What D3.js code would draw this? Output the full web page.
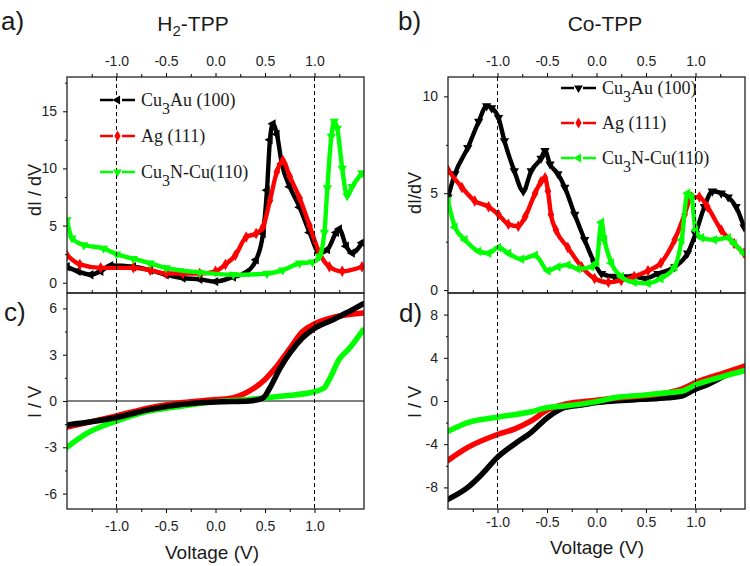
<!DOCTYPE html>
<html><head><meta charset="utf-8">
<script src="https://cdn.jsdelivr.net/npm/d3@7"></script>
<style>body{margin:0;background:#fff}</style>
</head><body><svg id="c" width="750" height="566"></svg>
<script>
// ---------- data ----------
const voltTicks = [-1.0, -0.5, 0.0, 0.5, 1.0];
const voltMinor = [-1.25, -0.75, -0.25, 0.25, 0.75, 1.25];
const dIdV_H2_ticks = [0, 5, 10, 15];
const dIdV_H2_minor = [2.5, 7.5, 12.5, 17.5];
const IV_H2_ticks = [-6, -3, 0, 3, 6];
const IV_H2_minor = [-4.5, -1.5, 1.5, 4.5];
const dIdV_Co_ticks = [0, 5, 10];
const dIdV_Co_minor = [2.5, 7.5];
const IV_Co_ticks = [-8, -4, 0, 4, 8];
const IV_Co_minor = [-6, -2, 2, 6];
const seriesNames = ["Cu_3Au (100)", "Ag (111)", "Cu_3N-Cu(110)"];
const seriesColors = ["#000000", "#ff0000", "#00ff00"];

// H2-TPP dI/dV  [V, dI/dV]
const a_Cu3Au = [[-1.5,1.4],[-1.39,1.0],[-1.26,0.7],[-1.16,1.0],[-1.06,1.5],[-0.83,1.4],[-0.66,1.1],[-0.5,0.7],[-0.33,0.4],[-0.16,0.3],[0.0,0.1],[0.18,0.5],[0.31,0.9],[0.41,2.0],[0.48,4.3],[0.52,8.1],[0.55,12.5],[0.58,13.9],[0.62,13.0],[0.67,10.4],[0.75,8.4],[0.85,6.6],[0.95,4.4],[1.05,2.6],[1.13,2.9],[1.22,4.4],[1.25,4.7],[1.32,3.2],[1.38,2.6],[1.48,3.5]];
const a_Ag = [[-1.5,2.4],[-1.37,1.6],[-1.16,1.3],[-0.83,1.3],[-0.66,1.1],[-0.5,0.8],[-0.33,0.8],[-0.16,0.8],[0.0,1.0],[0.1,1.6],[0.2,2.4],[0.31,4.0],[0.41,4.3],[0.48,4.9],[0.55,7.2],[0.62,9.7],[0.68,10.7],[0.75,9.3],[0.85,7.4],[0.95,5.0],[1.05,2.6],[1.15,1.4],[1.28,1.0],[1.48,1.4]];
const a_Cu3N = [[-1.5,5.5],[-1.45,3.9],[-1.33,3.3],[-1.13,3.0],[-1.0,2.5],[-0.83,2.1],[-0.66,1.7],[-0.5,1.3],[-0.16,0.9],[0.18,0.7],[0.52,0.8],[0.68,1.1],[0.85,1.7],[0.98,1.8],[1.05,2.3],[1.1,4.4],[1.13,8.3],[1.17,12.8],[1.2,14.1],[1.23,13.5],[1.28,10.0],[1.33,7.6],[1.38,8.4],[1.48,9.6]];
// H2-TPP I/V
const c_Cu3Au = [[-1.5,-1.55],[-1.0,-1.07],[-0.66,-0.54],[-0.33,-0.21],[0.0,-0.06],[0.34,0.0],[0.48,0.2],[0.55,0.86],[0.65,2.1],[0.75,3.1],[0.88,4.1],[1.0,4.7],[1.18,5.25],[1.32,5.7],[1.49,6.3]];
const c_Ag = [[-1.5,-1.7],[-1.0,-0.96],[-0.66,-0.43],[-0.33,-0.1],[0.0,0.09],[0.17,0.2],[0.34,0.64],[0.5,1.4],[0.6,2.1],[0.75,3.4],[0.88,4.5],[1.0,5.0],[1.18,5.4],[1.49,5.7]];
const c_Cu3N = [[-1.5,-3.0],[-1.3,-2.1],[-1.0,-1.3],[-0.66,-0.64],[-0.33,-0.32],[0.0,-0.04],[0.34,0.1],[0.68,0.32],[1.0,0.6],[1.1,0.86],[1.15,1.4],[1.25,2.7],[1.35,3.4],[1.49,4.6]];
// Co-TPP dI/dV
const b_Cu3Au = [[-1.5,4.8],[-1.43,6.0],[-1.3,7.35],[-1.19,8.7],[-1.11,9.5],[-1.06,9.4],[-0.99,8.9],[-0.93,7.7],[-0.83,6.15],[-0.74,5.1],[-0.66,6.15],[-0.56,6.8],[-0.52,7.2],[-0.47,6.5],[-0.39,6.0],[-0.32,5.3],[-0.22,3.9],[-0.12,2.6],[-0.02,1.4],[0.05,0.85],[0.18,0.7],[0.38,0.7],[0.49,0.6],[0.62,0.85],[0.79,1.2],[0.92,1.9],[1.0,2.9],[1.09,4.3],[1.17,5.1],[1.26,5.0],[1.33,4.8],[1.41,4.3],[1.49,3.25]];
const b_Ag = [[-1.5,6.2],[-1.36,5.3],[-1.23,4.6],[-1.09,4.3],[-0.99,3.9],[-0.89,3.4],[-0.79,3.3],[-0.72,3.8],[-0.62,5.0],[-0.56,5.6],[-0.52,5.8],[-0.49,5.1],[-0.46,3.9],[-0.41,3.1],[-0.29,2.2],[-0.15,1.2],[-0.02,0.6],[0.12,0.4],[0.25,0.5],[0.38,0.7],[0.52,1.0],[0.65,1.4],[0.79,2.6],[0.89,3.9],[0.96,4.8],[1.04,4.8],[1.12,4.3],[1.26,3.1],[1.39,2.4],[1.49,1.9]];
const b_Cu3N = [[-1.5,4.6],[-1.43,3.25],[-1.33,2.6],[-1.19,2.0],[-1.09,1.9],[-0.99,2.2],[-0.89,1.9],[-0.76,1.6],[-0.62,1.8],[-0.49,1.0],[-0.39,1.2],[-0.29,1.3],[-0.19,1.1],[-0.05,1.2],[0.0,1.4],[0.05,3.5],[0.08,2.6],[0.15,1.4],[0.25,0.7],[0.38,0.4],[0.52,0.35],[0.65,0.6],[0.79,1.2],[0.86,2.6],[0.92,5.0],[0.96,4.8],[1.0,3.1],[1.06,2.7],[1.19,2.6],[1.33,2.7],[1.39,2.4],[1.49,1.9]];
// Co-TPP I/V
const d_Cu3Au = [[-1.5,-9.1],[-1.3,-8.0],[-1.16,-6.8],[-1.0,-5.2],[-0.83,-4.0],[-0.66,-2.9],[-0.49,-1.5],[-0.32,-0.6],[-0.15,-0.37],[0.0,-0.15],[0.18,0.0],[0.45,0.15],[0.72,0.3],[0.86,0.46],[1.0,1.1],[1.12,1.5],[1.29,2.3],[1.49,3.2]];
const d_Ag = [[-1.5,-5.5],[-1.3,-4.3],[-1.0,-3.1],[-0.83,-2.6],[-0.66,-1.85],[-0.49,-0.8],[-0.32,-0.3],[0.0,0.06],[0.18,0.25],[0.45,0.46],[0.72,0.77],[0.86,1.1],[1.0,1.7],[1.29,2.6],[1.49,3.2]];
const d_Cu3N = [[-1.5,-2.8],[-1.3,-2.0],[-1.0,-1.5],[-0.66,-1.0],[-0.49,-0.6],[-0.32,-0.46],[0.0,-0.06],[0.18,0.3],[0.45,0.52],[0.72,0.77],[0.86,0.9],[1.0,1.5],[1.29,2.3],[1.49,2.8]];

// ---------- layout ----------
const svg = d3.select("#c");
const TOP = 77, MID = 293, BOT = 509;
const cols = [{l: 67, r: 364}, {l: 448, r: 745}];
const sans = "'Liberation Sans', Arial, sans-serif";
const serif = "'Liberation Serif', 'Times New Roman', serif";
const fmtV = d => d3.format(".1f")(d).replace("−", "-");
const fmtI = d => String(d).replace("−", "-");

const symLeft = {type: d3.symbolTriangle, rot: -90};
const symDown = {type: d3.symbolTriangle, rot: 180};
const symDiam = {type: d3.symbolDiamond, rot: 0};

const panels = [
  {col: 0, y0: TOP, y1: MID, dom: [-0.9, 18], ticks: dIdV_H2_ticks, minor: dIdV_H2_minor,
   series: [{d: a_Cu3Au, c: 0, s: symLeft}, {d: a_Ag, c: 1, s: symDiam}, {d: a_Cu3N, c: 2, s: symDown}], top: true},
  {col: 0, y0: MID, y1: BOT, dom: [-7, 7], ticks: IV_H2_ticks, minor: IV_H2_minor,
   series: [{d: c_Ag, c: 1}, {d: c_Cu3N, c: 2}, {d: c_Cu3Au, c: 0}], zero: true},
  {col: 1, y0: TOP, y1: MID, dom: [-0.15, 11], ticks: dIdV_Co_ticks, minor: dIdV_Co_minor,
   series: [{d: b_Cu3Au, c: 0, s: symDown}, {d: b_Ag, c: 1, s: symDiam}, {d: b_Cu3N, c: 2, s: symLeft}], top: true},
  {col: 1, y0: MID, y1: BOT, dom: [-10, 10], ticks: IV_Co_ticks, minor: IV_Co_minor,
   series: [{d: d_Cu3Au, c: 0}, {d: d_Ag, c: 1}, {d: d_Cu3N, c: 2}]}
];

const defs = svg.append("defs");
panels.forEach((p, i) => {
  const col = cols[p.col];
  const x = d3.scaleLinear().domain([-1.5, 1.5]).range([col.l, col.r]);
  const y = d3.scaleLinear().domain(p.dom).range([p.y1, p.y0]);
  defs.append("clipPath").attr("id", "clip" + i).append("rect")
    .attr("x", col.l).attr("y", p.y0).attr("width", col.r - col.l).attr("height", p.y1 - p.y0);
  const g = svg.append("g");
  if (p.zero) g.append("line").attr("x1", col.l).attr("x2", col.r).attr("y1", y(0)).attr("y2", y(0))
    .attr("stroke", "#000").attr("stroke-width", 1);
  const cg = g.append("g").attr("clip-path", `url(#clip${i})`);
  const line = d3.line().x(d => x(d[0])).y(d => y(d[1])).curve(d3.curveMonotoneX);
  p.series.forEach(s => {
    const col_ = seriesColors[s.c];
    cg.append("path").datum(s.d).attr("d", line).attr("fill", "none")
      .attr("stroke", col_).attr("stroke-width", p.top ? 4.4 : 5.5)
      .attr("stroke-linejoin", "round").attr("stroke-linecap", "round");
    if (s.s) {
      const sym = d3.symbol().type(s.s.type).size(38);
      cg.selectAll(null).data(s.d).enter().append("path").attr("d", sym)
        .attr("transform", d => `translate(${x(d[0])},${y(d[1])}) rotate(${s.s.rot})`)
        .attr("fill", col_);
    }
  });
  const ya = g.append("g").attr("transform", `translate(${col.l},0)`)
    .call(d3.axisLeft(y).tickValues(p.ticks).tickSize(4).tickPadding(6).tickFormat(fmtI));
  ya.select(".domain").remove();
  ya.selectAll("text").attr("font-family", sans).attr("font-size", 14).attr("fill", "#222");
  const yam = g.append("g").attr("transform", `translate(${col.l},0)`)
    .call(d3.axisLeft(y).tickValues(p.minor).tickSize(2).tickFormat(""));
  yam.select(".domain").remove();
  g.append("rect").attr("x", col.l).attr("y", p.y0).attr("width", col.r - col.l).attr("height", p.y1 - p.y0)
    .attr("fill", "none").attr("stroke", "#222").attr("stroke-width", 1.3);
  if (p.top) {
    const xa = g.append("g").attr("transform", `translate(0,${TOP})`)
      .call(d3.axisTop(x).tickValues(voltTicks).tickSize(4).tickPadding(7).tickFormat(fmtV));
    xa.select(".domain").remove();
    xa.selectAll("text").attr("font-family", sans).attr("font-size", 14).attr("fill", "#222");
    const xam = g.append("g").attr("transform", `translate(0,${TOP})`)
      .call(d3.axisTop(x).tickValues(voltMinor).tickSize(3).tickFormat(""));
    xam.select(".domain").remove();
  } else {
    const xa = g.append("g").attr("transform", `translate(0,${BOT})`)
      .call(d3.axisBottom(x).tickValues(voltTicks).tickSize(4).tickPadding(p.col === 0 ? 8 : 4).tickFormat(fmtV));
    xa.select(".domain").remove();
    xa.selectAll("text").attr("font-family", sans).attr("font-size", 14).attr("fill", "#222");
    const xam = g.append("g").attr("transform", `translate(0,${BOT})`)
      .call(d3.axisBottom(x).tickValues(voltMinor).tickSize(3).tickFormat(""));
    xam.select(".domain").remove();
    const xmid = g.append("g").attr("transform", `translate(0,${MID})`)
      .call(d3.axisTop(x).tickValues(voltTicks.concat(voltMinor)).tickSize(3).tickFormat(""));
    xmid.select(".domain").remove();
    [-1, 1].forEach(v => svg.append("line").attr("x1", x(v)).attr("x2", x(v)).attr("y1", TOP).attr("y2", BOT)
      .attr("stroke", "#000").attr("stroke-width", 1).attr("stroke-dasharray", "4,3"));
  }
});

// ---------- text ----------
function txt(x, y, s, size, opts = {}) {
  return svg.append("text").attr("x", x).attr("y", y).attr("font-family", opts.font || sans)
    .attr("font-size", size).attr("fill", "#1a1a1a").attr("text-anchor", opts.anchor || "start")
    .attr("transform", opts.rot ? `rotate(${opts.rot},${x},${y})` : null).text(s);
}
txt(1, 30, "a)", 26);
txt(398, 30, "b)", 26);
txt(4, 321, "c)", 26);
txt(399, 322, "d)", 26);

const t1 = txt(193, 31, "", 21, {anchor: "middle"});
t1.append("tspan").text("H");
t1.append("tspan").text("2").attr("font-size", 15).attr("dy", 5);
t1.append("tspan").text("-TPP").attr("dy", -5);
txt(605, 31, "Co-TPP", 21, {anchor: "middle"});

txt(41, 190, "dI / dV", 18, {anchor: "middle", rot: -90});
txt(41, 402, "I / V", 18, {anchor: "middle", rot: -90});
txt(421, 193, "dI/dV", 18, {anchor: "middle", rot: -90});
txt(421, 402, "I / V", 18, {anchor: "middle", rot: -90});
txt(212, 559, "Voltage (V)", 19, {anchor: "middle"});
txt(597, 554, "Voltage (V)", 19, {anchor: "middle"});

// legends
function legend(x0, y0, dy, syms) {
  seriesNames.forEach((name, i) => {
    const yy = y0 + i * dy, c = seriesColors[i];
    svg.append("line").attr("x1", x0).attr("x2", x0 + 35).attr("y1", yy).attr("y2", yy)
      .attr("stroke", c).attr("stroke-width", 2.6).attr("stroke-dasharray", "13,3,3,3,13");
    svg.append("path").attr("d", d3.symbol().type(syms[i].type).size(34))
      .attr("transform", `translate(${x0 + 17.5},${yy}) rotate(${syms[i].rot})`).attr("fill", c);
    const t = txt(x0 + 41, yy + 6, "", 18, {font: serif});
    const parts = name.split("_");
    if (parts.length === 1) t.append("tspan").text(name);
    else {
      t.append("tspan").text(parts[0]);
      t.append("tspan").text(parts[1][0]).attr("dy", 8).attr("font-size", 16);
      t.append("tspan").text(parts[1].slice(1)).attr("dy", -8);
    }
  });
}
legend(100, 100, 36, [symLeft, symDiam, symDown]);
legend(561, 88, 35, [symDown, symDiam, symLeft]);
</script></body></html>
